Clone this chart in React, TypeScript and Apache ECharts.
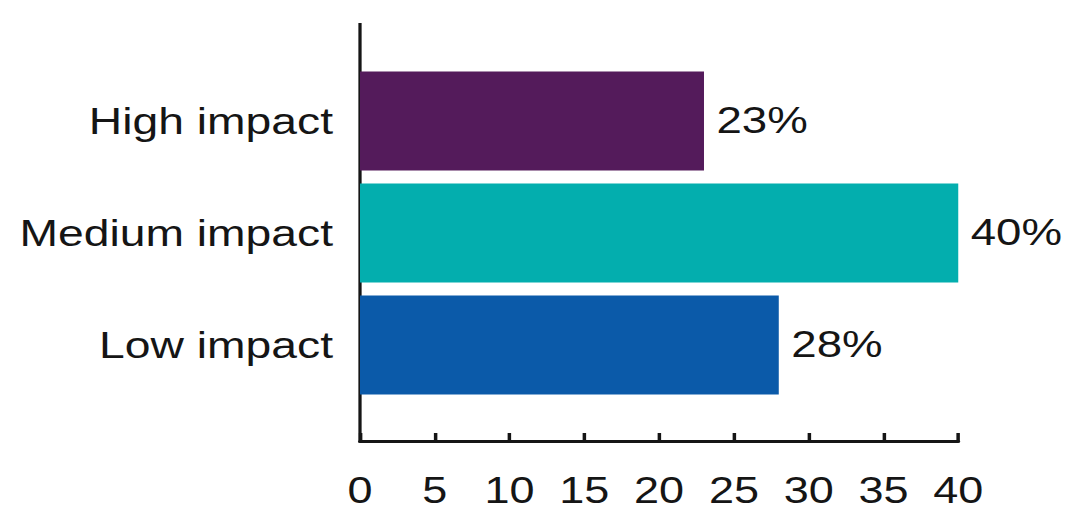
import React, { useEffect, useRef } from "react";
import * as echarts from "echarts";

const categories = ["High impact", "Medium impact", "Low impact"];
const values = [23, 40, 28];
const barColors = ["#541B5B", "#03AEAE", "#0B5AA9"];
const xMin = 0;
const xMax = 40;
const xInterval = 5;

const S = 1.25; // horizontal stretch of the reference
const W = 1066 / S;
const H = 513;
const FONT = '"Liberation Sans", Arial, Helvetica, sans-serif';
const INK = "#151515";

export default function App() {
  const ref = useRef<HTMLDivElement>(null);
  useEffect(() => {
    if (!ref.current) return;
    const chart = echarts.init(ref.current, undefined, { renderer: "svg" });
    const left = 360 / S;
    const right = W - 958 / S;
    chart.setOption({
      animation: false,
      backgroundColor: "#ffffff",
      grid: { left, right, top: 65, bottom: 112, containLabel: false },
      xAxis: {
        type: "value",
        min: xMin,
        max: xMax,
        interval: xInterval,
        offset: 40,
        axisLine: { show: true, lineStyle: { color: INK, width: 3 } },
        axisTick: { show: true, inside: true, length: 8, lineStyle: { color: INK, width: 2.8 } },
        splitLine: { show: false },
        axisLabel: {
          color: INK,
          fontSize: 36,
          lineHeight: 36,
          fontFamily: FONT,
          margin: 32,
        },
      },
      yAxis: {
        type: "category",
        data: categories,
        inverse: true,
        axisLine: { show: false },
        axisTick: { show: false },
        axisLabel: { color: INK, fontSize: 37, fontFamily: FONT, margin: 21.6 },
      },
      graphic: [
        {
          type: "line",
          shape: { x1: left, y1: 23, x2: left, y2: 442.5 },
          style: { stroke: INK, lineWidth: 2.6 },
        },
      ],
      series: [
        {
          type: "bar",
          barWidth: 99,
          data: values.map((v, i) => ({ value: v, itemStyle: { color: barColors[i] } })),
          label: {
            show: true,
            position: "right",
            distance: 10,
            formatter: "{c}%",
            color: INK,
            fontSize: 36.5,
            fontFamily: FONT,
          },
        },
      ],
    });
    return () => chart.dispose();
  }, []);
  return (
    <div
      style={{
        position: "fixed",
        left: 0,
        top: 0,
        width: 1066,
        height: H,
        background: "#fff",
        overflow: "hidden",
      }}
    >
      <div
        ref={ref}
        style={{
          width: W,
          height: H,
          transform: `scaleX(${S})`,
          transformOrigin: "0 0",
        }}
      />
    </div>
  );
}
